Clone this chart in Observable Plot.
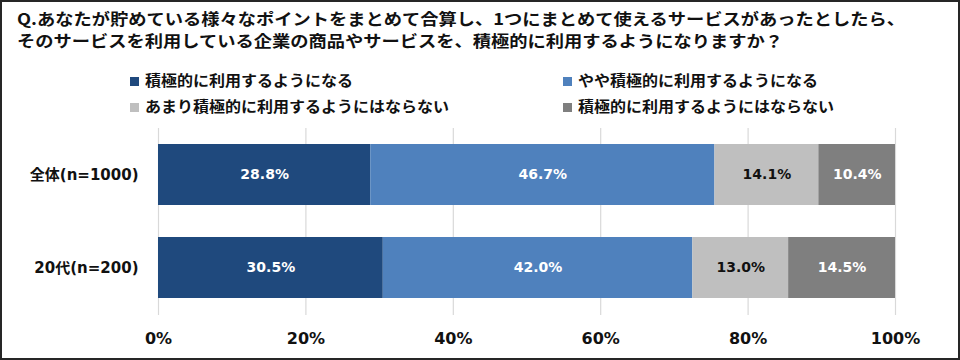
<!DOCTYPE html>
<html><head><meta charset="utf-8">
<script src="https://cdn.jsdelivr.net/npm/d3@7"></script>
<script src="https://cdn.jsdelivr.net/npm/@observablehq/plot@0.6"></script>
<style>
html,body{margin:0;padding:0;background:#fff;}
#wrap{position:relative;width:960px;height:360px;overflow:hidden;font-family:"Noto Sans CJK JP","Noto Sans",sans-serif;}
#frame{position:absolute;left:0;top:0;width:960px;height:360px;box-sizing:border-box;border:2px solid #262626;pointer-events:none;}
.tl{position:absolute;left:17px;font-size:16px;font-weight:bold;line-height:20px;color:#111;white-space:nowrap;transform-origin:0 50%;}
.leg{position:absolute;font-size:14.5px;font-weight:bold;color:#111;white-space:nowrap;line-height:18px;}
.leg i{position:absolute;left:0;top:6px;width:9px;height:9px;}
.leg span{position:absolute;left:15px;top:0;transform-origin:0 50%;}
#chart{position:absolute;left:0;top:120px;}
</style></head>
<body><div id="wrap">
<div id="title"></div>
<div id="legend"></div>
<div id="chart"></div>
<div id="frame"></div>
</div>
<script>
const titleLines = [
  "Q.あなたが貯めている様々なポイントをまとめて合算し、1つにまとめて使えるサービスがあったとしたら、",
  "そのサービスを利用している企業の商品やサービスを、積極的に利用するようになりますか？"
];
const groups = ["全体(n=1000)", "20代(n=200)"];
const seriesNames = [
  "積極的に利用するようになる",
  "やや積極的に利用するようになる",
  "あまり積極的に利用するようにはならない",
  "積極的に利用するようにはならない"
];
const seriesColors = ["#1f497d", "#4f81bd", "#bfbfbf", "#7f7f7f"];
const labelColors = ["#ffffff", "#ffffff", "#111111", "#ffffff"];
const values = [
  [28.8, 46.7, 14.1, 10.4],
  [30.5, 42.0, 13.0, 14.5]
];
const xTicks = [0, 20, 40, 60, 80, 100];

// title (glyphs horizontally stretched as in the reference)
const titleEl = document.getElementById("title");
const tls = titleLines.map((t, i) => {
  const d = document.createElement("div");
  d.className = "tl";
  d.style.top = (8 + i * 22) + "px";
  d.textContent = t;
  titleEl.appendChild(d);
  return d;
});
const ts = 888 / tls[0].getBoundingClientRect().width;
tls.forEach(d => d.style.transform = `scaleX(${ts})`);

// legend
const legPos = [[130, 71], [563, 71], [130, 97], [563, 97]];
const legend = document.getElementById("legend");
const legSpans = seriesNames.map((s, i) => {
  const d = document.createElement("div");
  d.className = "leg";
  d.style.left = legPos[i][0] + "px";
  d.style.top = legPos[i][1] + "px";
  d.innerHTML = `<i style="background:${seriesColors[i]}"></i><span>${s}</span>`;
  legend.appendChild(d);
  return d.querySelector("span");
});
const ls = 208 / legSpans[0].getBoundingClientRect().width;
legSpans.forEach(sp => sp.style.transform = `scaleX(${ls})`);

const data = [];
groups.forEach((g, gi) => seriesNames.forEach((s, si) => data.push({group: g, series: s, value: values[gi][si], si})));

const numFont = "'DejaVu Sans', 'Noto Sans CJK JP', sans-serif";
const stackOpts = (extra) => Plot.stackX({x: "value", y: "group", z: "series", order: seriesNames, ...extra});
const labelText = d => d.value.toFixed(1) + "%";

const chart = Plot.plot({
  width: 960,
  height: 240,
  marginLeft: 158,
  marginRight: 65,
  marginTop: 8,
  marginBottom: 45,
  style: {fontFamily: numFont, background: "transparent"},
  x: {domain: [0, 100], ticks: xTicks, tickFormat: d => d + "%", label: null},
  y: {domain: groups, paddingInner: 0.34, paddingOuter: 0.17, label: null},
  color: {domain: seriesNames, range: seriesColors},
  marks: [
    Plot.gridX(xTicks, {stroke: "#d9d9d9", strokeOpacity: 1, strokeWidth: 1.2}),
    Plot.barX(data, stackOpts({fill: "series"})),
    Plot.text(data, Plot.filter(d => labelColors[d.si] === "#ffffff", stackOpts({text: labelText, fill: "#ffffff", fontSize: 14, fontWeight: "bold"}))),
    Plot.text(data, Plot.filter(d => labelColors[d.si] !== "#ffffff", stackOpts({text: labelText, fill: "#111111", fontSize: 14, fontWeight: "bold"}))),
    Plot.axisX({ticks: xTicks, tickFormat: d => d + "%", tickSize: 0, tickPadding: 17, fontSize: 16, fontWeight: "bold", fill: "#111"}),
    Plot.axisY({tickSize: 0, tickPadding: 20, fontSize: 15, fontWeight: "bold", fill: "#111"})
  ]
});
document.getElementById("chart").appendChild(chart);
</script>
</body></html>
